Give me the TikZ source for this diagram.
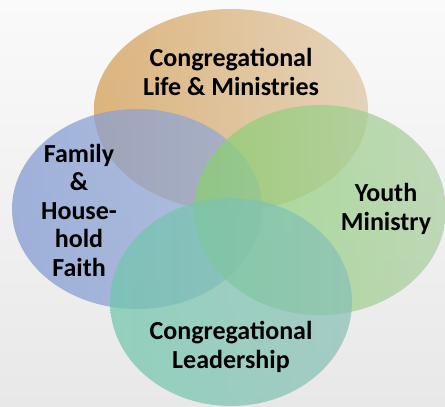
\documentclass[tikz,border=0pt]{standalone}
\usepackage{fontspec}
\setmainfont{Carlito}
\definecolor{bgtop}{RGB}{250,250,250}
\definecolor{bgbot}{RGB}{232,232,232}
\definecolor{orgL}{RGB}{210,155,80}
\definecolor{orgR}{RGB}{222,198,162}
\definecolor{bluL}{RGB}{128,152,208}
\definecolor{bluR}{RGB}{150,172,214}
\definecolor{grnL}{RGB}{135,208,110}
\definecolor{grnR}{RGB}{172,206,162}
\definecolor{tealL}{RGB}{112,198,172}
\definecolor{tealR}{RGB}{138,192,182}
\tikzset{
  circ/.style={fill opacity=0.72},
  lbl/.style={font=\fontsize{26}{28.5}\selectfont\bfseries, align=center, text=black, inner sep=0pt}
}
\begin{document}
\begin{tikzpicture}[x=1pt,y=-1pt]
\useasboundingbox (0,0) rectangle (445,407);
\shade[top color=bgtop, bottom color=bgbot] (0,0) rectangle (445,407);
% ellipses
\shade[circ, left color=orgL, right color=orgR] (231,110) ellipse [x radius=137, y radius=101];
\shade[circ, left color=bluL, right color=bluR] (137,209) ellipse [x radius=125, y radius=100];
\shade[circ, left color=grnL, right color=grnR] (320,210) ellipse [x radius=126, y radius=105];
\shade[circ, left color=tealL, right color=tealR] (231,302) ellipse [x radius=121, y radius=104];
% labels
\node[lbl] (clm) at (231,72) {Congregational\\Life \& Ministries};
\node[lbl] (fhf) at (79,210) {Family\\\&\\House-\\hold\\Faith};
\node[lbl] (ym) at (386,209) {Youth\\Ministry};
\node[lbl] (cl) at (231,347) {Congregational\\Leadership};
\end{tikzpicture}
\end{document}
